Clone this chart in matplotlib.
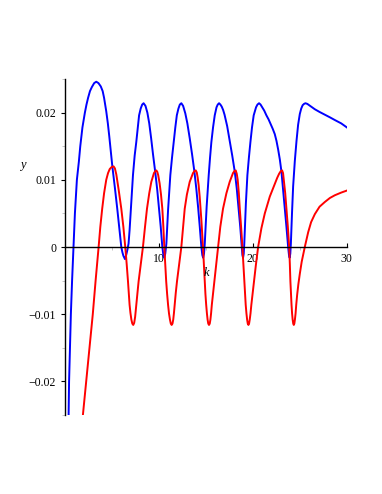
import matplotlib
matplotlib.use("Agg")
import matplotlib.pyplot as plt
from matplotlib.ticker import MultipleLocator

# --- datos: curva azul (k, y) ---
k_azul = [0.43, 0.48, 0.57, 0.67, 0.80, 0.95, 1.10, 1.31, 1.52, 1.67, 1.90, 2.16, 2.33, 2.50,
          2.70, 2.90, 3.15, 3.37, 3.60, 3.85, 4.05, 4.20, 4.43, 4.60, 4.75, 5.07, 5.35, 5.60,
          5.82, 6.03, 6.15, 6.25, 6.42, 6.55, 6.68, 6.80, 6.91, 7.10, 7.27, 7.45, 7.62, 7.78,
          7.92, 8.09, 8.25, 8.40, 8.60, 8.80, 9.00, 9.20, 9.40, 9.65, 9.85, 10.04,
          10.22, 10.39, 10.50, 10.60, 10.70, 10.82, 11.00, 11.24, 11.42, 11.60, 11.77, 11.93,
          12.10, 12.25, 12.41, 12.60, 12.83, 13.05, 13.30, 13.55, 13.80, 14.00,
          14.20, 14.37, 14.54, 14.64, 14.73, 14.82, 14.90, 15.10, 15.32, 15.46, 15.60, 15.78,
          15.96, 16.15, 16.28, 16.42, 16.56, 16.70, 16.85, 17.00, 17.28, 17.55, 17.82, 18.09,
          18.30, 18.50, 18.67, 18.83, 18.90, 18.97, 19.04, 19.10, 19.27, 19.43, 19.59, 19.75,
          19.92, 20.10, 20.35, 20.50, 20.67, 20.83, 21.00, 21.22, 21.45, 21.68, 21.90, 22.12,
          22.34, 22.52, 22.70, 22.88, 23.05, 23.22, 23.40, 23.58, 23.76, 23.85, 23.92, 23.99,
          24.05, 24.17, 24.29, 24.47, 24.65, 24.82, 25.00, 25.15, 25.30, 25.45, 25.60, 25.80,
          26.00, 26.30, 26.60, 27.10, 27.66, 28.20, 28.72, 29.40, 30.00]
y_azul = [-0.025, -0.020, -0.015, -0.010, -0.005, 0.0, 0.0050, 0.0100, 0.0127, 0.0150,
          0.0178, 0.0200, 0.0212, 0.0222, 0.0232, 0.0238, 0.0244, 0.0246, 0.0244, 0.0239,
          0.0232, 0.0222, 0.0202, 0.0184, 0.0165, 0.0121, 0.0088, 0.0057, 0.0028, 0.0,
          -0.0008, -0.0013, -0.0018, -0.0012, -0.0004, 0.0005, 0.0025, 0.0068, 0.0107,
          0.0136, 0.0156, 0.0178, 0.0196, 0.0206, 0.0212, 0.0214, 0.0210, 0.0200, 0.0184,
          0.0162, 0.0138, 0.0110, 0.0085, 0.0057, 0.0030, 0.0, -0.0012, -0.0016,
          -0.0010, 0.0005, 0.0055, 0.0107, 0.0133, 0.0156, 0.0178, 0.0196, 0.0206, 0.0212,
          0.0214, 0.0210, 0.0199, 0.0184, 0.0162, 0.0138, 0.0112, 0.0087,
          0.0058, 0.0030, 0.0, -0.0012, -0.0016, -0.0010, 0.0005, 0.0060, 0.0107, 0.0133,
          0.0156, 0.0178, 0.0196, 0.0208, 0.0212, 0.0214, 0.0212, 0.0209, 0.0204, 0.0197,
          0.0180, 0.0158, 0.0136, 0.0112, 0.0087, 0.0057, 0.0030, 0.0, -0.0012, -0.0016,
          -0.0010, 0.0005, 0.0065, 0.0107, 0.0133, 0.0156, 0.0178, 0.0196, 0.0208, 0.0212,
          0.0214, 0.0212, 0.0208, 0.0203, 0.0196, 0.0190, 0.0183, 0.0176, 0.0168, 0.0158,
          0.0145, 0.0130, 0.0112, 0.0086, 0.0057, 0.0030, 0.0, -0.0012, -0.0016, -0.0010,
          0.0005, 0.0050, 0.0090, 0.0128, 0.0158, 0.0182, 0.0198, 0.0206, 0.0211, 0.0213,
          0.0214, 0.0213, 0.0211, 0.0208, 0.0205, 0.0201, 0.0197, 0.0193, 0.0189, 0.0184,
          0.0178]

# --- curva roja (k, y) ---
k_rojo = [1.95, 2.30, 2.65, 3.00, 3.30, 3.62, 3.80, 4.00, 4.20, 4.43, 4.62, 4.80, 5.00, 5.21,
          5.35, 5.50, 5.62, 5.75, 6.03, 6.25, 6.45, 6.60, 6.74, 6.91, 7.00, 7.10, 7.20, 7.30,
          7.40, 7.50, 7.62, 7.75, 7.87, 8.10, 8.33, 8.55, 8.76, 9.00, 9.22, 9.50, 9.65, 9.75,
          9.85, 9.95, 10.10, 10.25, 10.39, 10.50, 10.60, 10.70, 10.80, 10.90, 11.00, 11.10,
          11.20, 11.29, 11.38, 11.47, 11.55, 11.62, 11.70, 11.82, 11.95, 12.18, 12.41, 12.60,
          12.77, 13.00, 13.30, 13.65, 13.80, 13.94, 14.05, 14.15, 14.25, 14.36, 14.54, 14.71,
          14.80, 14.90, 14.97, 15.05, 15.13, 15.20, 15.27, 15.35, 15.43, 15.50, 15.57, 15.65,
          15.75, 15.85, 16.08, 16.31, 16.55, 16.84, 17.20, 17.55, 17.90, 18.05, 18.19, 18.30,
          18.40, 18.52, 18.62, 18.76, 18.90, 19.00, 19.10, 19.18, 19.25, 19.33, 19.40, 19.47,
          19.54, 19.61, 19.68, 19.76, 19.85, 19.97, 20.10, 20.33, 20.57, 20.92, 21.28, 21.81,
          22.34, 22.60, 22.80, 22.98, 23.12, 23.22, 23.30, 23.45, 23.58, 23.73, 23.87, 23.94,
          24.00, 24.06, 24.12, 24.18, 24.24, 24.30, 24.36, 24.42, 24.48, 24.55, 24.62, 24.72,
          24.85, 25.00, 25.20, 25.53, 25.89, 26.20, 26.60, 27.10, 27.66, 28.20, 28.72, 29.40,
          30.00]
y_rojo = [-0.025, -0.020, -0.015, -0.010, -0.005, 0.0, 0.0030, 0.0057, 0.0080, 0.0100,
          0.0110, 0.0116, 0.0119, 0.0120, 0.0117, 0.0108, 0.0097, 0.0085, 0.0057, 0.0030,
          0.0, -0.0025, -0.0051, -0.0086, -0.0098, -0.0108, -0.0114, -0.0116, -0.0113,
          -0.0104, -0.0086, -0.0068, -0.0051, -0.0025, 0.0, 0.0030, 0.0057, 0.0080, 0.0097,
          0.0110, 0.0113, 0.0114, 0.0112, 0.0107, 0.0095, 0.0078, 0.0057, 0.0030, 0.0,
          -0.0025, -0.0051, -0.0070, -0.0086, -0.0099, -0.0108, -0.0114, -0.0116, -0.0114,
          -0.0108, -0.0099, -0.0086, -0.0068, -0.0051, -0.0025, 0.0, 0.0030, 0.0057, 0.0078,
          0.0097, 0.0110, 0.0113, 0.0114, 0.0111, 0.0103, 0.0092, 0.0075, 0.0040, 0.0,
          -0.0025, -0.0051, -0.0070, -0.0086, -0.0099, -0.0108, -0.0114, -0.0116, -0.0114,
          -0.0108, -0.0099, -0.0086, -0.0073, -0.0060, -0.0030, 0.0, 0.0030, 0.0057, 0.0080,
          0.0097, 0.0110, 0.0113, 0.0114, 0.0109, 0.0100, 0.0080, 0.0057, 0.0030, 0.0,
          -0.0025, -0.0051, -0.0070, -0.0086, -0.0099, -0.0108, -0.0114, -0.0116, -0.0114,
          -0.0108, -0.0099, -0.0086, -0.0071, -0.0055, -0.0027, 0.0, 0.0028, 0.0050, 0.0075,
          0.0094, 0.0103, 0.0109, 0.0113, 0.0114, 0.0110, 0.0100, 0.0080, 0.0057, 0.0030,
          0.0, -0.0025, -0.0051, -0.0070, -0.0086, -0.0099, -0.0108, -0.0114, -0.0116,
          -0.0114, -0.0108, -0.0099, -0.0086, -0.0071, -0.0055, -0.0040, -0.0022, 0.0,
          0.0022, 0.0037, 0.0049, 0.0060, 0.0067, 0.0073, 0.0077, 0.0081, 0.0084]

xticks = [10, 20, 30]
yticks = [-0.02, -0.01, 0, 0.01, 0.02]
yticklabels = ["\u22120.02", "\u22120.01", "0", "0.01", "0.02"]

plt.rcParams['font.family'] = ['Liberation Serif', 'DejaVu Serif']

fig = plt.figure(figsize=(3.82, 4.94), dpi=100)
ax = fig.add_axes([0.169, 0.160, 0.739, 0.680])

ax.plot(k_azul, y_azul, color='#0000ff', lw=1.4, solid_joinstyle='round')
ax.plot(k_rojo, y_rojo, color='#ff0000', lw=1.4, solid_joinstyle='round')

ax.set_xlim(0, 30)
ax.set_ylim(-0.025, 0.025)

# ejes al estilo Maple (cruzando en el origen)
ax.spines['top'].set_visible(False)
ax.spines['right'].set_visible(False)
ax.spines['bottom'].set_position(('data', 0))
ax.spines['left'].set_linewidth(1.0)
ax.spines['bottom'].set_linewidth(1.0)

ax.set_xticks(xticks)
ax.set_yticks(yticks)
ax.set_yticklabels(yticklabels)
ax.xaxis.set_minor_locator(MultipleLocator(5))
ax.yaxis.set_minor_locator(MultipleLocator(0.005))
ax.tick_params(axis='both', which='major', labelsize=8.5, length=3, width=0.8)
ax.tick_params(axis='x', which='major', direction='in', pad=4)
ax.tick_params(axis='y', which='major', direction='out', pad=3)
ax.tick_params(axis='both', which='minor', length=2, width=0.6, color='#bbbbbb')

ax.text(0.501, 0.424, 'k', transform=ax.transAxes, ha='center', va='center',
        fontsize=9, style='italic')
ax.text(-0.148, 0.744, 'y', transform=ax.transAxes, ha='center', va='center',
        fontsize=9, style='italic')

fig.savefig('out.png', dpi=100)
